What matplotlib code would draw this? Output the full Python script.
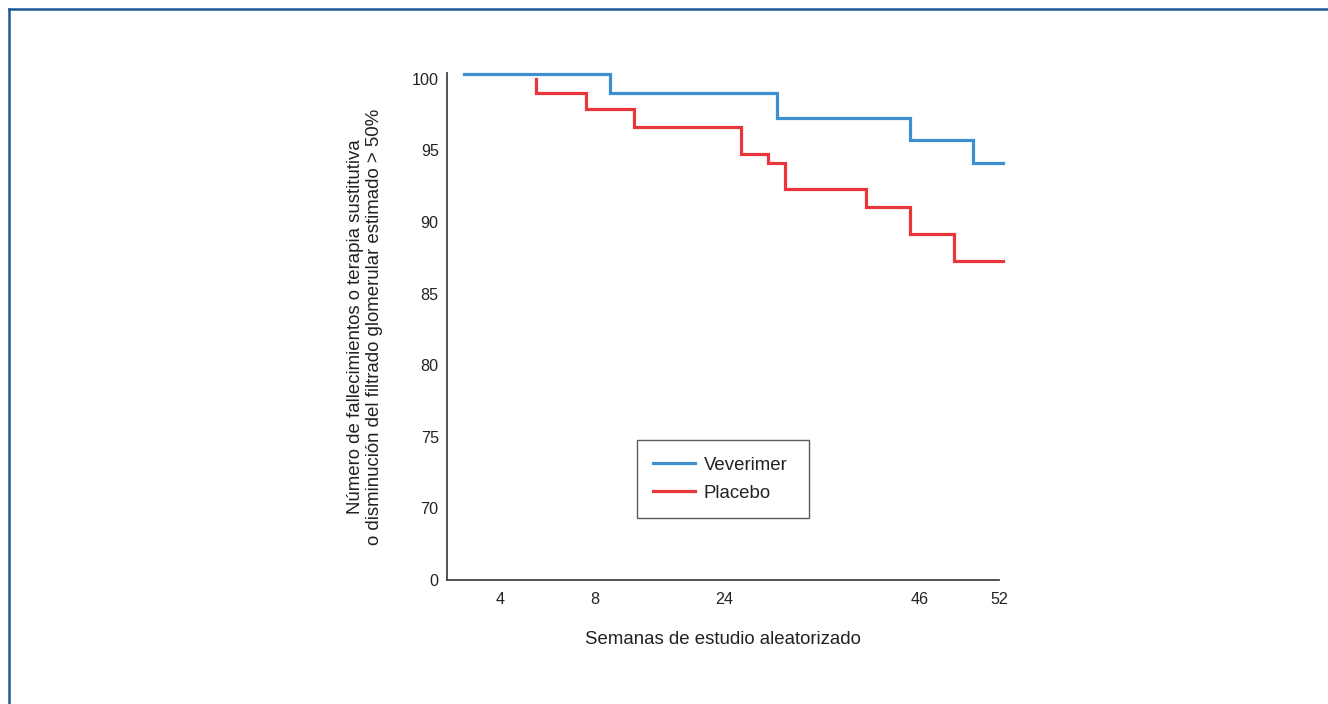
import numpy as np
import matplotlib
matplotlib.use("Agg")
import matplotlib.pyplot as plt
from matplotlib.lines import Line2D

plt.rcParams['font.family'] = ['Liberation Sans', 'DejaVu Sans']

# ---- data ----
xtick_weeks = [4, 8, 24, 46, 52]
xtick_labels = ["4", "8", "24", "46", "52"]
ytick_vals = [65, 70, 75, 80, 85, 90, 95, 100]
ytick_labels = ["0", "70", "75", "80", "85", "90", "95", "100"]

vev_weeks = [2.5, 9.8, 29.9, 44.9, 50.0, 52.3]
vev_vals = [100.3, 98.97, 97.25, 95.72, 94.15, 94.15]

pla_weeks = [5.5, 5.5, 7.6, 12.8, 25.9, 28.9, 30.9, 39.9, 44.9, 48.6, 52.3]
pla_vals = [100.0, 99.0, 97.88, 96.6, 94.74, 94.13, 92.29, 91.06, 89.15, 87.28, 87.28]

series_names = ["Veverimer", "Placebo"]

# non-uniform week axis (piecewise linear)
scale_weeks = [0, 4, 8, 24, 46, 52, 60]
scale_pos = [-42, 53, 148, 277, 473, 552, 657]

def fwd(x):
    return np.interp(np.asarray(x, dtype=float), scale_weeks, scale_pos)

def inv(p):
    return np.interp(np.asarray(p, dtype=float), scale_pos, scale_weeks)

BLUE = "#3d8fcf"
RED = "#e8363b"
AXC = "#444444"
TXT = "#222222"

fig = plt.figure(figsize=(13.28, 7.04), dpi=100)
fig.patch.set_facecolor("white")

# outer frame (top and left edges visible)
frame_c = "#1f5799"
fig.add_artist(Line2D([9/1328, 1.0], [1 - 9/704, 1 - 9/704], color=frame_c, lw=1.8,
                      transform=fig.transFigure))
fig.add_artist(Line2D([9/1328, 9/1328], [0.0, 1 - 9/704], color=frame_c, lw=1.8,
                      transform=fig.transFigure))

ax = fig.add_axes([447/1328, 1 - 580/704, 552/1328, 507/704])
ax.set_xscale('function', functions=(fwd, inv))

ax.step(vev_weeks, vev_vals, where='post', color=BLUE, lw=2.3, clip_on=False,
        label=series_names[0], solid_joinstyle='miter')
ax.step(pla_weeks, pla_vals, where='post', color=RED, lw=2.3, clip_on=False,
        label=series_names[1], solid_joinstyle='miter')

ax.set_xlim(float(inv(0)), 52)
ax.set_ylim(65, 100.4)

ax.set_xticks(xtick_weeks)
ax.set_xticklabels(xtick_labels)
ax.set_yticks(ytick_vals)
ax.set_yticklabels(ytick_labels)
ax.minorticks_off()
ax.tick_params(axis='both', length=0, labelsize=11.6, colors=TXT)
ax.tick_params(axis='x', pad=8.5)
ax.tick_params(axis='y', pad=6)

for s in ['top', 'right']:
    ax.spines[s].set_visible(False)
for s in ['left', 'bottom']:
    ax.spines[s].set_color(AXC)
    ax.spines[s].set_linewidth(1.3)

ax.set_xlabel("Semanas de estudio aleatorizado", fontsize=13.4, color=TXT, labelpad=17.5)
ax.set_ylabel("Número de fallecimientos o terapia sustitutiva\n"
              "o disminución del filtrado glomerular estimado > 50%",
              fontsize=13.4, color=TXT, labelpad=21, linespacing=1.12)

leg = ax.legend(loc='lower left', bbox_to_anchor=(190/552, 62/507, 172/552, 78/507),
                mode='expand', fontsize=13.4, frameon=True, fancybox=False,
                borderpad=0.88, handlelength=2.25, handletextpad=0.45,
                labelspacing=0.58, borderaxespad=0)
leg.get_frame().set_edgecolor("#333333")
leg.get_frame().set_linewidth(1.0)
for t in leg.get_texts():
    t.set_color(TXT)

fig.savefig("out.png", dpi=100, facecolor="white")
